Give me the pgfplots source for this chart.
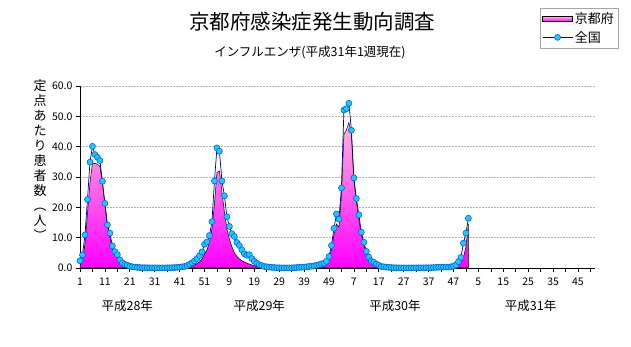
\documentclass[border=0pt]{standalone}
\usepackage{fontspec}
\setmainfont{Noto Sans CJK JP}
\usepackage{pgfplots}
\pgfplotsset{compat=1.18}
\usepackage{pgfplotstable}
\definecolor{kmag}{HTML}{FF00FF}
\definecolor{kpink}{HTML}{FFB8DC}
\definecolor{nline}{HTML}{000080}
\definecolor{mfill}{HTML}{1EC8FF}
\definecolor{mdraw}{HTML}{0064DC}
\definecolor{gridc}{HTML}{B4B4B4}

\pgfplotstableread{
i nat kyo
0 2.4 0.8
1 4.3 2.5
2 10.9 8.0
3 22.6 18.0
4 34.9 28.0
5 40.1 34.5
6 37.4 34.5
7 36.5 34.2
8 35.4 33.5
9 28.6 28.0
10 21.3 21.0
11 14.2 14.5
12 11.5 10.0
13 7.3 6.5
14 5.4 4.5
15 4.4 3.2
16 2.7 2.0
17 1.7 1.3
18 1.2 0.9
19 0.9 0.6
20 0.6 0.4
21 0.4 0.3
22 0.3 0.2
23 0.2 0.15
24 0.15 0.1
25 0.1 0.1
26 0.1 0.05
27 0.08 0.05
28 0.06 0.03
29 0.05 0.03
30 0.05 0.02
31 0.04 0.02
32 0.04 0.02
33 0.05 0.03
34 0.05 0.03
35 0.06 0.05
36 0.08 0.05
37 0.1 0.08
38 0.15 0.1
39 0.2 0.15
40 0.3 0.2
41 0.4 0.25
42 0.5 0.3
43 0.8 0.4
44 1.2 0.5
45 1.7 0.7
46 2.3 1.0
47 3.1 1.4
48 4.1 2.0
49 5.3 3.0
50 7.8 4.5
51 8.6 6.0
52 10.7 8.5
53 15.3 13.0
54 28.7 21.0
55 39.6 31.5
56 38.5 32.0
57 28.7 25.0
58 23.8 18.5
59 16.9 13.0
60 13.7 9.5
61 11.3 7.0
62 10.4 5.0
63 8.4 3.8
64 7.4 3.0
65 6.0 2.4
66 4.7 2.0
67 4.2 1.6
68 4.4 1.3
69 3.1 1.0
70 2.2 0.8
71 1.6 0.6
72 1.1 0.4
73 0.8 0.3
74 0.5 0.2
75 0.4 0.15
76 0.3 0.1
77 0.2 0.1
78 0.15 0.08
79 0.1 0.05
80 0.08 0.05
81 0.06 0.03
82 0.05 0.03
83 0.05 0.02
84 0.05 0.02
85 0.06 0.03
86 0.1 0.05
87 0.15 0.08
88 0.2 0.1
89 0.25 0.12
90 0.3 0.15
91 0.4 0.15
92 0.5 0.2
93 0.6 0.3
94 0.7 0.4
95 0.9 0.5
96 1.1 0.6
97 1.3 0.8
98 1.6 1.2
99 2.2 1.8
100 3.8 3.2
101 7.4 6.0
102 13.1 11.0
103 17.8 14.5
104 16.1 13.5
105 26.4 24.0
106 52.1 44.0
107 52.5 45.5
108 54.3 48.0
109 45.4 44.0
110 29.7 29.0
111 22.9 22.0
112 17.5 16.0
113 11.8 11.0
114 8.5 7.5
115 5.5 5.0
116 3.6 3.5
117 2.2 2.3
118 1.9 1.6
119 1.3 1.1
120 0.9 0.8
121 0.5 0.5
122 0.4 0.3
123 0.3 0.2
124 0.2 0.1
125 0.15 0.1
126 0.1 0.05
127 0.08 0.05
128 0.06 0.04
129 0.05 0.03
130 0.05 0.03
131 0.04 0.02
132 0.04 0.02
133 0.05 0.02
134 0.05 0.03
135 0.05 0.03
136 0.06 0.03
137 0.06 0.04
138 0.07 0.04
139 0.08 0.05
140 0.09 0.05
141 0.1 0.05
142 0.15 0.08
143 0.2 0.1
144 0.25 0.12
145 0.3 0.15
146 0.3 0.15
147 0.3 0.2
148 0.3 0.25
149 0.4 0.3
150 0.6 0.4
151 1.0 0.6
152 2.1 1.0
153 3.5 1.8
154 8.2 3.5
155 11.5 7.0
156 16.4 14.5
}\datatable

\begin{document}
\begin{tikzpicture}
\useasboundingbox (0,0) rectangle (631pt,347pt);
\node[font=\fontsize{20.5}{23}\selectfont, anchor=center] at (312pt,325pt) {京都府感染症発生動向調査};
\node[font=\fontsize{12.5}{14}\selectfont, anchor=center] at (310pt,295pt) {インフルエンザ(平成31年1週現在)};
\node[font=\fontsize{13}{15}\selectfont, align=center, anchor=center] at (40pt,187pt) {定\\点\\あ\\た\\り\\患\\者\\数\\︵\\人\\︶};
\begin{axis}[
  at={(80pt,79pt)}, anchor=south west,
  scale only axis, width=515.4pt, height=182pt,
  xmin=0, xmax=207, ymin=0, ymax=60,
  clip=false,
  axis x line*=bottom, axis y line*=left,
  axis line style={black, line width=0.8pt},
  xtick={0,10,...,200},
  xticklabels={1,11,21,31,41,51,9,19,29,39,49,7,17,27,37,47,5,15,25,35,45},
  minor xtick={5,15,...,205},
  ytick={0,10,...,60},
  tick align=outside,
  major tick length=4pt, minor tick length=4pt,
  tick style={black, line width=0.6pt},
  ymajorgrids,
  major grid style={gridc, dash pattern=on 2pt off 1pt, line width=0.5pt},
  /pgf/number format/assume math mode=true,
  tick label style={font=\fontsize{10.5}{12}\selectfont},
  yticklabel style={/pgf/number format/.cd, fixed, fixed zerofill, precision=1},
  xticklabel style={yshift=-2pt},
  legend style={at={(0.8925,1.4286)}, anchor=north west, draw=gray!70,
    font=\fontsize{13}{14}\selectfont, inner xsep=2pt, inner ysep=2.5pt, row sep=2pt},
  legend cell align=left,
]
\addplot[draw=black, line width=0.5pt, top color=kpink, bottom color=kmag,
  legend image code/.code={\draw[black, line width=0.5pt, top color=kpink, bottom color=kmag] (0pt,-2.5pt) rectangle (30pt,2.5pt);}]
  table[x=i, y=kyo] {\datatable} \closedcycle;
\addlegendentry{京都府}
\addplot[color=nline, line width=0.7pt, mark=*, mark size=3pt,
  mark options={fill=mfill, draw=mdraw, line width=0.6pt},
  legend image code/.code={\draw[mark repeat=2, mark phase=2] plot coordinates {(0pt,0pt) (15pt,0pt) (30pt,0pt)};}]
  table[x=i, y=nat] {\datatable};
\addlegendentry{全国}
\node[font=\fontsize{12.5}{14}\selectfont] at (axis cs:19,-12.5) {平成28年};
\node[font=\fontsize{12.5}{14}\selectfont] at (axis cs:72,-12.5) {平成29年};
\node[font=\fontsize{12.5}{14}\selectfont] at (axis cs:126.5,-12.5) {平成30年};
\node[font=\fontsize{12.5}{14}\selectfont] at (axis cs:181,-12.5) {平成31年};
\end{axis}
\end{tikzpicture}
\end{document}
